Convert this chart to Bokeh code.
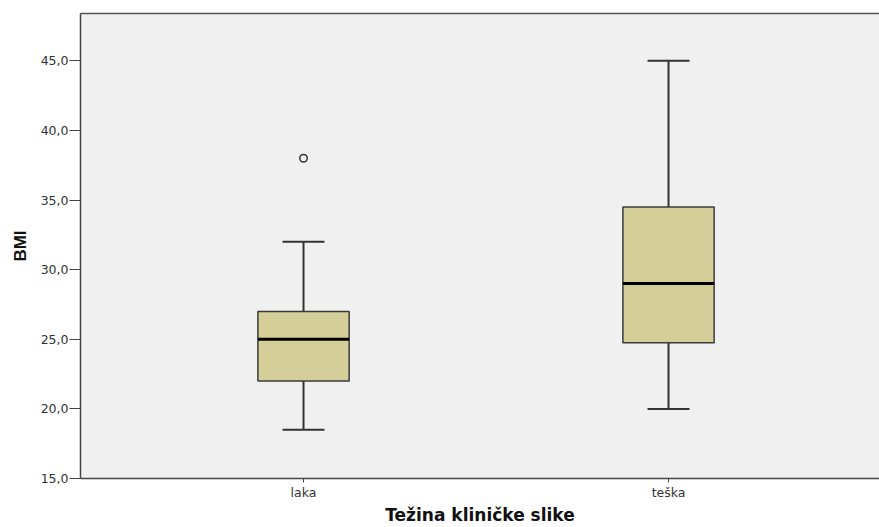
from bokeh.plotting import figure
from bokeh.models import FixedTicker, LinearAxis, Range1d
from bokeh.embed import file_html
from bokeh.resources import INLINE

categories = ["laka", "teška"]
positions = [1, 2]
lower_whisker = [18.5, 20.0]
q1 = [22.0, 24.75]
median = [25.0, 29.0]
q3 = [27.0, 34.5]
upper_whisker = [32.0, 45.0]
outlier_pos = [1]
outlier_val = [38.0]
y_ticks = [15, 20, 25, 30, 35, 40, 45]
y_tick_labels = ["15,0", "20,0", "25,0", "30,0", "35,0", "40,0", "45,0"]

BOX_W = 0.25
CAP_W = 0.115
FONT = "DejaVu Sans"

p = figure(width=879, height=527, output_backend="svg", toolbar_location=None,
           x_range=Range1d(0.389, 2.578), y_range=Range1d(15, 48.4),
           min_border_left=80, min_border_right=0, min_border_top=13, min_border_bottom=49)
p.background_fill_color = "#f0f0f0"
p.border_fill_color = "white"
p.outline_line_color = None
p.grid.visible = False

# whiskers
p.segment(x0=positions, y0=q3, x1=positions, y1=upper_whisker, line_color="#333333", line_width=2)
p.segment(x0=positions, y0=lower_whisker, x1=positions, y1=q1, line_color="#333333", line_width=2)
p.segment(x0=[x - CAP_W / 2 for x in positions], y0=upper_whisker,
          x1=[x + CAP_W / 2 for x in positions], y1=upper_whisker, line_color="#333333", line_width=2)
p.segment(x0=[x - CAP_W / 2 for x in positions], y0=lower_whisker,
          x1=[x + CAP_W / 2 for x in positions], y1=lower_whisker, line_color="#333333", line_width=2)
# boxes
p.vbar(x=positions, width=BOX_W, bottom=q1, top=q3, fill_color="#d4cf98",
       line_color="#3a3a3a", line_width=1.5)
# medians
p.segment(x0=[x - BOX_W / 2 for x in positions], y0=median,
          x1=[x + BOX_W / 2 for x in positions], y1=median, line_color="black", line_width=3)
# outliers
p.scatter(x=outlier_pos, y=outlier_val, size=7.5, marker="circle", fill_color=None,
          line_color="#333333", line_width=1.5)

# axes
xa = p.xaxis[0]
xa.ticker = FixedTicker(ticks=positions)
xa.major_label_overrides = {pos: c for pos, c in zip(positions, categories)}
xa.minor_tick_line_color = None
xa.major_tick_out = 4
xa.major_tick_in = 0
xa.axis_line_color = "#444444"
xa.axis_line_width = 1.5
xa.major_tick_line_color = "#444444"
xa.major_label_text_font = FONT
xa.major_label_text_font_size = "12.5px"
xa.major_label_text_color = "#333333"
xa.major_label_standoff = 2
xa.axis_label = "Težina kliničke slike"
xa.axis_label_text_font = FONT
xa.axis_label_text_font_style = "bold"
xa.axis_label_text_font_size = "17px"
xa.axis_label_text_color = "#111111"
xa.axis_label_standoff = 2

ya = p.yaxis[0]
ya.ticker = FixedTicker(ticks=y_ticks)
ya.major_label_overrides = {t: l for t, l in zip(y_ticks, y_tick_labels)}
ya.minor_tick_line_color = None
ya.major_tick_out = 11
ya.major_tick_in = 0
ya.axis_line_color = "#444444"
ya.axis_line_width = 1.5
ya.major_tick_line_color = "#444444"
ya.major_label_text_font = FONT
ya.major_label_text_font_size = "12.5px"
ya.major_label_text_color = "#333333"
ya.major_label_standoff = 1
ya.axis_label = "BMI"
ya.axis_label_text_font = "Liberation Sans"
ya.axis_label_text_font_style = "bold"
ya.axis_label_text_font_size = "17px"
ya.axis_label_text_color = "#111111"
ya.axis_label_standoff = 8

top = LinearAxis(ticker=FixedTicker(ticks=[]), major_label_text_font_size="0px",
                 axis_line_color="#555555", axis_line_width=1.5, minor_tick_line_color=None,
                 major_tick_line_color=None)
p.add_layout(top, "above")

open("out.html", "w").write(file_html(p, INLINE))
